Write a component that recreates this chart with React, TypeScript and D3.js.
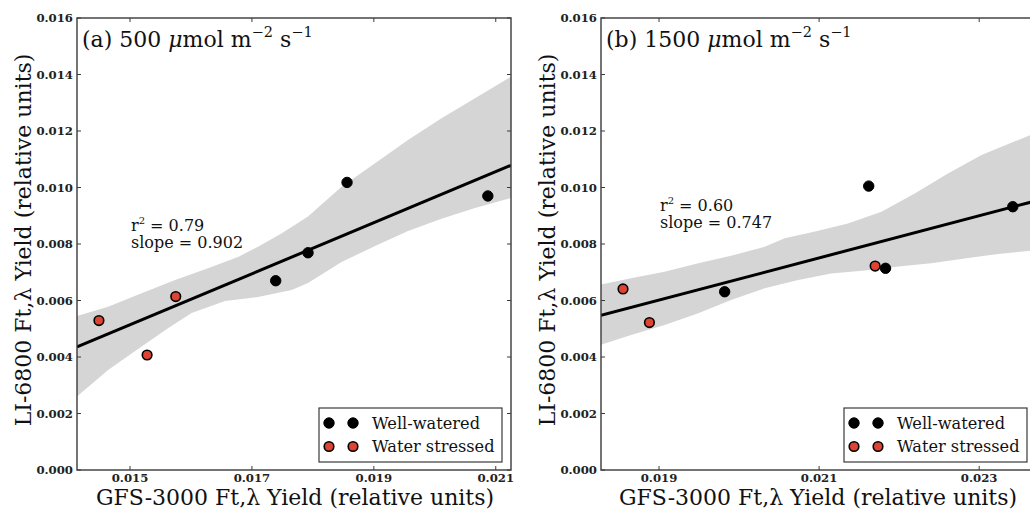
import React from "react";
import * as d3 from "d3";

// ---------- data ----------
const yTicks = [0, 0.002, 0.004, 0.006, 0.008, 0.01, 0.012, 0.014, 0.016];

// panel (a) 500 µmol
const aXTicks = [0.015, 0.017, 0.019, 0.021];
const aWellX = [0.01739, 0.01792, 0.01856, 0.02087];
const aWellY = [0.0067, 0.00769, 0.01018, 0.0097];
const aStressX = [0.01449, 0.01528, 0.01575];
const aStressY = [0.00529, 0.00407, 0.00614];
const aUpperX = [0.01413, 0.01464, 0.01519, 0.01574, 0.01628, 0.01678, 0.0171, 0.01749, 0.01792, 0.01847, 0.01902, 0.01956, 0.02011, 0.02066, 0.02125];
const aUpperY = [0.00545, 0.00578, 0.00626, 0.00673, 0.00714, 0.00755, 0.0079, 0.00838, 0.00897, 0.01003, 0.01086, 0.01168, 0.01245, 0.01316, 0.01392];
const aLowerX = [0.01413, 0.01464, 0.01519, 0.01563, 0.01601, 0.01656, 0.0171, 0.01765, 0.01792, 0.01847, 0.01902, 0.01956, 0.02011, 0.02066, 0.02125];
const aLowerY = [0.0026, 0.00354, 0.00437, 0.00503, 0.00556, 0.00598, 0.00612, 0.00637, 0.00662, 0.00736, 0.00793, 0.00846, 0.00889, 0.00927, 0.00963];
const aR2 = "0.79";
const aSlope = "0.902";

// panel (b) 1500 µmol
const bXTicks = [0.019, 0.021, 0.023];
const bWellX = [0.01982, 0.02162, 0.02183, 0.02342];
const bWellY = [0.00631, 0.01005, 0.00714, 0.00932];
const bStressX = [0.01855, 0.01888, 0.0217];
const bStressY = [0.00641, 0.00522, 0.00722];
const bUpperX = [0.018275, 0.01865, 0.01907, 0.01949, 0.0199, 0.02032, 0.02057, 0.02095, 0.02136, 0.02178, 0.0222, 0.02261, 0.02303, 0.02371];
const bUpperY = [0.00657, 0.00679, 0.00702, 0.00732, 0.00758, 0.0079, 0.0082, 0.00844, 0.00873, 0.00914, 0.0098, 0.0105, 0.01115, 0.01194];
const bLowerX = [0.018275, 0.01865, 0.01907, 0.01949, 0.0199, 0.02032, 0.02074, 0.02115, 0.02157, 0.02199, 0.0224, 0.02282, 0.02324, 0.02371];
const bLowerY = [0.00443, 0.00478, 0.00513, 0.00555, 0.00602, 0.00643, 0.00673, 0.00696, 0.00706, 0.0072, 0.00732, 0.00749, 0.00765, 0.00778];
const bR2 = "0.60";
const bSlope = "0.747";

const legendLabels = ["Well-watered", "Water stressed"];
const xLabel = "GFS-3000 Ft,\u03bb Yield (relative units)";
const yLabel = "LI-6800 Ft,\u03bb Yield (relative units)";

// ---------- styling ----------
const FONT = "DejaVu Serif";
const RED = "#dd4433";
const FRAME = "#3a3a3a";
const BAND = "#d5d5d5";

function ols(xs: number[], ys: number[]) {
  const mx = d3.mean(xs)!;
  const my = d3.mean(ys)!;
  let sxy = 0, sxx = 0;
  xs.forEach((x, i) => { sxy += (x - mx) * (ys[i] - my); sxx += (x - mx) * (x - mx); });
  const m = sxy / sxx;
  return { m, b: my - m * mx };
}

type PanelProps = {
  id: string;
  left: number;
  right: number;
  xDomain: [number, number];
  xTicks: number[];
  wellX: number[]; wellY: number[];
  stressX: number[]; stressY: number[];
  upX: number[]; upY: number[]; loX: number[]; loY: number[];
  letter: string; flux: string;
  r2: string; slope: string;
  annX: number; annY: number;
  ylabX: number;
  xlabX: number;
};

const TOP = 18, BOTTOM = 470;

function Panel(p: PanelProps) {
  const x = d3.scaleLinear().domain(p.xDomain).range([p.left, p.right]);
  const y = d3.scaleLinear().domain([0, 0.016]).range([BOTTOM, TOP]);
  const allX = [...p.wellX, ...p.stressX];
  const allY = [...p.wellY, ...p.stressY];
  const fit = ols(allX, allY);
  const bandPts: [number, number][] = [
    ...p.upX.map((v, i) => [x(v), y(p.upY[i])] as [number, number]),
    ...p.loX.map((v, i) => [x(v), y(p.loY[i])] as [number, number]).reverse(),
  ];
  const area = d3.line()(bandPts) + "Z";
  const line = d3.line()([
    [x(p.xDomain[0]), y(fit.m * p.xDomain[0] + fit.b)],
    [x(p.xDomain[1]), y(fit.m * p.xDomain[1] + fit.b)],
  ]);
  const fmt = d3.format(".3f");
  const legW = 183, legH = 54;
  const legX = p.right - 9 - legW, legY = 408;
  const tickLen = 4;
  return (
    <g>
      <defs>
        <clipPath id={"clip" + p.id}>
          <rect x={p.left} y={TOP} width={p.right - p.left} height={BOTTOM - TOP} />
        </clipPath>
      </defs>
      <g clipPath={`url(#clip${p.id})`}>
        <path d={area} fill={BAND} stroke="none" />
        <path d={line!} stroke="#000" strokeWidth={3} fill="none" />
      </g>
      {p.wellX.map((v, i) => (
        <circle key={"w" + i} cx={x(v)} cy={y(p.wellY[i])} r={5.2} fill="#000" stroke="#000" strokeWidth={1} />
      ))}
      {p.stressX.map((v, i) => (
        <circle key={"s" + i} cx={x(v)} cy={y(p.stressY[i])} r={4.8} fill={RED} stroke="#000" strokeWidth={1.6} />
      ))}
      {/* frame */}
      <rect x={p.left} y={TOP} width={p.right - p.left} height={BOTTOM - TOP} fill="none" stroke={FRAME} strokeWidth={1.4} />
      {/* ticks */}
      {yTicks.map((t) => (
        <g key={"yt" + t}>
          <line x1={p.left} x2={p.left + tickLen} y1={y(t)} y2={y(t)} stroke={FRAME} strokeWidth={1} />
          <line x1={p.right} x2={p.right - tickLen} y1={y(t)} y2={y(t)} stroke={FRAME} strokeWidth={1} />
          <text x={p.left - 4} y={y(t) + 4} textAnchor="end" fontFamily={FONT} fontWeight="bold" fontSize={11.7} fill="#222">{fmt(t)}</text>
        </g>
      ))}
      {p.xTicks.map((t) => (
        <g key={"xt" + t}>
          <line x1={x(t)} x2={x(t)} y1={BOTTOM} y2={BOTTOM - tickLen} stroke={FRAME} strokeWidth={1} />
          <line x1={x(t)} x2={x(t)} y1={TOP} y2={TOP + tickLen} stroke={FRAME} strokeWidth={1} />
          <text x={x(t)} y={BOTTOM + 12} textAnchor="middle" fontFamily={FONT} fontWeight="bold" fontSize={11.7} fill="#222">{fmt(t)}</text>
        </g>
      ))}
      {/* axis labels */}
      <text x={p.xlabX} y={505} textAnchor="middle" fontFamily={FONT} fontSize={22} fill="#111">{xLabel}</text>
      <text transform={`translate(${p.ylabX},240) rotate(-90)`} textAnchor="middle" fontFamily={FONT} fontSize={22} fill="#111">{yLabel}</text>
      {/* title */}
      <text x={p.left + 5} y={47} fontFamily={FONT} fontSize={22} fill="#111">
        {`(${p.letter}) ${p.flux} `}
        <tspan fontStyle="italic">{"\u03bc"}</tspan>
        <tspan>{"mol m"}</tspan>
        <tspan fontSize={14.5} dy={-10}>{"\u22122"}</tspan>
        <tspan dy={10}>{" s"}</tspan>
        <tspan fontSize={14.5} dy={-10}>{"\u22121"}</tspan>
      </text>
      {/* annotation */}
      <text x={p.annX} y={p.annY} fontFamily={FONT} fontSize={16} fill="#111">
        r<tspan fontSize={10} dy={-7}>2</tspan><tspan dy={7}>{` = ${p.r2}`}</tspan>
      </text>
      <text x={p.annX} y={p.annY + 17} fontFamily={FONT} fontSize={16} fill="#111">{`slope = ${p.slope}`}</text>
      {/* legend */}
      <rect x={legX} y={legY} width={legW} height={legH} fill="#fff" stroke={FRAME} strokeWidth={1.2} />
      {legendLabels.map((lab, i) => {
        const ly = legY + 15 + i * 23.5;
        const isWell = i === 0;
        return (
          <g key={lab}>
            {[10, 34].map((dx) => (
              <circle key={dx} cx={legX + dx} cy={ly} r={isWell ? 5.2 : 4.8} fill={isWell ? "#000" : RED} stroke="#000" strokeWidth={isWell ? 1 : 1.6} />
            ))}
            <text x={legX + 53} y={ly + 5.5} fontFamily={FONT} fontSize={16.2} fill="#111">{lab}</text>
          </g>
        );
      })}
    </g>
  );
}

export default function App() {
  return (
    <svg width={1030} height={510} style={{ position: "absolute", left: 0, top: 0, background: "#fff" }}>
      <rect x={0} y={0} width={1030} height={510} fill="#fff" />
      <Panel
        id="a" left={77} right={511} xDomain={[0.01413, 0.02125]} xTicks={aXTicks}
        wellX={aWellX} wellY={aWellY} stressX={aStressX} stressY={aStressY}
        upX={aUpperX} upY={aUpperY} loX={aLowerX} loY={aLowerY}
        letter="a" flux="500" r2={aR2} slope={aSlope} annX={131} annY={231} ylabX={31} xlabX={295}
      />
      <Panel
        id="b" left={601} right={1036} xDomain={[0.018275, 0.02371]} xTicks={bXTicks}
        wellX={bWellX} wellY={bWellY} stressX={bStressX} stressY={bStressY}
        upX={bUpperX} upY={bUpperY} loX={bLowerX} loY={bLowerY}
        letter="b" flux="1500" r2={bR2} slope={bSlope} annX={660} annY={211} ylabX={555} xlabX={818}
      />
    </svg>
  );
}
